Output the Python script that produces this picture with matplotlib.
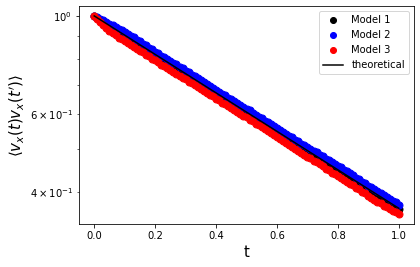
import numpy as np
import matplotlib
matplotlib.use("Agg")
import matplotlib.pyplot as plt

# time grid (101 points between 0 and 1)
t = np.linspace(0, 1, 101)

# Model 1 (black)
model1 = [1.000, 0.989, 0.979, 0.969, 0.959, 0.949, 0.939, 0.929, 0.920, 0.910,
          0.901, 0.891, 0.882, 0.873, 0.864, 0.855, 0.847, 0.838, 0.829, 0.820,
          0.812, 0.804, 0.796, 0.789, 0.782, 0.775, 0.768, 0.760, 0.753, 0.745,
          0.738, 0.730, 0.723, 0.716, 0.708, 0.701, 0.694, 0.687, 0.680, 0.673,
          0.667, 0.660, 0.654, 0.647, 0.641, 0.635, 0.628, 0.622, 0.616, 0.610,
          0.604, 0.598, 0.592, 0.586, 0.580, 0.574, 0.569, 0.563, 0.557, 0.552,
          0.546, 0.541, 0.535, 0.530, 0.525, 0.520, 0.515, 0.510, 0.505, 0.500,
          0.495, 0.490, 0.485, 0.480, 0.475, 0.470, 0.466, 0.461, 0.456, 0.452,
          0.447, 0.442, 0.437, 0.432, 0.428, 0.424, 0.420, 0.416, 0.412, 0.408,
          0.404, 0.400, 0.396, 0.392, 0.389, 0.385, 0.381, 0.377, 0.373, 0.370,
          0.366]

# Model 2 (blue)
model2 = [1.000, 0.992, 0.985, 0.977, 0.970, 0.961, 0.954, 0.945, 0.936, 0.929,
          0.918, 0.911, 0.900, 0.894, 0.882, 0.876, 0.865, 0.858, 0.848, 0.841,
          0.831, 0.825, 0.814, 0.809, 0.798, 0.793, 0.782, 0.777, 0.767, 0.761,
          0.752, 0.747, 0.737, 0.732, 0.723, 0.717, 0.708, 0.703, 0.694, 0.689,
          0.681, 0.675, 0.667, 0.662, 0.654, 0.649, 0.641, 0.636, 0.628, 0.624,
          0.616, 0.612, 0.604, 0.599, 0.592, 0.587, 0.580, 0.576, 0.569, 0.564,
          0.558, 0.553, 0.547, 0.542, 0.536, 0.532, 0.525, 0.522, 0.515, 0.511,
          0.505, 0.501, 0.495, 0.492, 0.485, 0.482, 0.476, 0.473, 0.467, 0.464,
          0.458, 0.455, 0.449, 0.447, 0.441, 0.438, 0.431, 0.428, 0.422, 0.419,
          0.414, 0.411, 0.406, 0.403, 0.398, 0.395, 0.390, 0.387, 0.382, 0.380,
          0.375]

# Model 3 (red)
model3 = [1.000, 0.984, 0.970, 0.955, 0.941, 0.926, 0.915, 0.905, 0.893, 0.887,
          0.877, 0.870, 0.859, 0.850, 0.844, 0.834, 0.827, 0.817, 0.811, 0.801,
          0.794, 0.786, 0.776, 0.771, 0.761, 0.756, 0.748, 0.739, 0.733, 0.724,
          0.719, 0.711, 0.706, 0.697, 0.692, 0.684, 0.678, 0.671, 0.663, 0.658,
          0.650, 0.645, 0.637, 0.632, 0.625, 0.619, 0.613, 0.606, 0.601, 0.594,
          0.590, 0.583, 0.578, 0.571, 0.567, 0.560, 0.555, 0.549, 0.545, 0.538,
          0.534, 0.527, 0.523, 0.516, 0.512, 0.505, 0.502, 0.495, 0.491, 0.486,
          0.481, 0.477, 0.471, 0.468, 0.462, 0.458, 0.452, 0.449, 0.443, 0.440,
          0.435, 0.430, 0.427, 0.421, 0.417, 0.415, 0.408, 0.406, 0.400, 0.398,
          0.392, 0.389, 0.385, 0.381, 0.378, 0.373, 0.370, 0.366, 0.363, 0.360,
          0.357]

# theoretical curve
t_th = [0.0, 0.25, 0.5, 0.75, 1.0]
theory = [1.0, 0.7788, 0.6065, 0.4724, 0.3679]

fig = plt.figure(figsize=(420 / 72, 267 / 72), dpi=72)
ax = fig.add_axes([79 / 420, 43 / 267, 335 / 420, 218 / 267])

ax.plot(t, model1, 'o', color='black', markersize=7, label='Model 1')
ax.plot(t, model2, 'o', color='blue', markersize=7, label='Model 2')
ax.plot(t, model3, 'o', color='red', markersize=7, label='Model 3')
ax.plot(t_th, theory, color='black', label='theoretical')

ax.set_yscale('log')
ax.set_xlabel('t', fontsize=15)
ax.set_ylabel(r"$\langle v_x(t) v_x(t')\rangle$", fontsize=15)
ax.legend(loc='upper right', markerscale=6 / 7)

fig.savefig('out.png', dpi=72)
